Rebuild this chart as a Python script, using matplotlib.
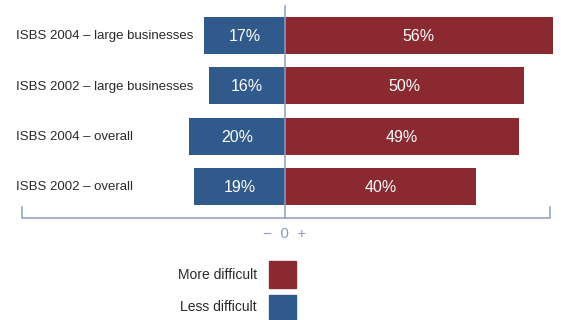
import matplotlib
matplotlib.use("Agg")
import matplotlib.pyplot as plt
from matplotlib.patches import Rectangle
from matplotlib import font_manager

categories = ["ISBS 2004 – large businesses", "ISBS 2002 – large businesses",
              "ISBS 2004 – overall", "ISBS 2002 – overall"]
less_difficult = [17, 16, 20, 19]
more_difficult = [56, 50, 49, 40]
legend_labels = ["More difficult", "Less difficult"]

BLUE = "#2f5a8b"
RED = "#8a2930"
LINE = "#8f9bc6"
TXT = "#2a2a2a"

names = {f.name for f in font_manager.fontManager.ttflist}
fam = "Liberation Sans Narrow" if "Liberation Sans Narrow" in names else "Liberation Sans"
narrow = fam == "Liberation Sans Narrow"
plt.rcParams['font.family'] = [fam, 'DejaVu Sans']

W, H = 561, 320
fig = plt.figure(figsize=(W / 100, H / 100), dpi=100)
ax = fig.add_axes([0, 0, 1, 1])
ax.set_xlim(0, W)
ax.set_ylim(H, 0)
ax.axis("off")

cx = 285.0
scale = 4.78  # px per percent
row0 = 35.5
step = 50.3
bh = 37
lab_fs = 11.0 if narrow else 9.5
leg_fs = 11.5 if narrow else 10.0

for i, (cat, l, m) in enumerate(zip(categories, less_difficult, more_difficult)):
    y = row0 + step * i
    ax.barh(y, -l * scale, left=cx, height=bh, color=BLUE, zorder=2)
    ax.barh(y, m * scale, left=cx, height=bh, color=RED, zorder=2)
    ax.text(cx - l * scale / 2, y + 1, f"{l}%", color="white", ha="center", va="center", fontsize=11.5, zorder=4)
    ax.text(cx + m * scale / 2, y + 1, f"{m}%", color="white", ha="center", va="center", fontsize=11.5, zorder=4)
    ax.text(16, y + 1, cat, color=TXT, ha="left", va="center", fontsize=lab_fs)

# center line and bracket
ax.plot([cx, cx], [6, 218], color=LINE, lw=1.1, zorder=3)
ax.plot([22, 22, 550, 550], [207, 218, 218, 207], color=LINE, lw=1.1, zorder=3)
ax.text(cx, 234, "−  0  +", color=LINE, ha="center", va="center", fontsize=11)

# legend
ax.add_patch(Rectangle((269, 261), 27, 27, color=RED))
ax.add_patch(Rectangle((269, 295), 27, 26, color=BLUE))
ax.text(257, 275, legend_labels[0], color=TXT, ha="right", va="center", fontsize=leg_fs)
ax.text(257, 307, legend_labels[1], color=TXT, ha="right", va="center", fontsize=leg_fs)

fig.savefig("out.png", dpi=100)
